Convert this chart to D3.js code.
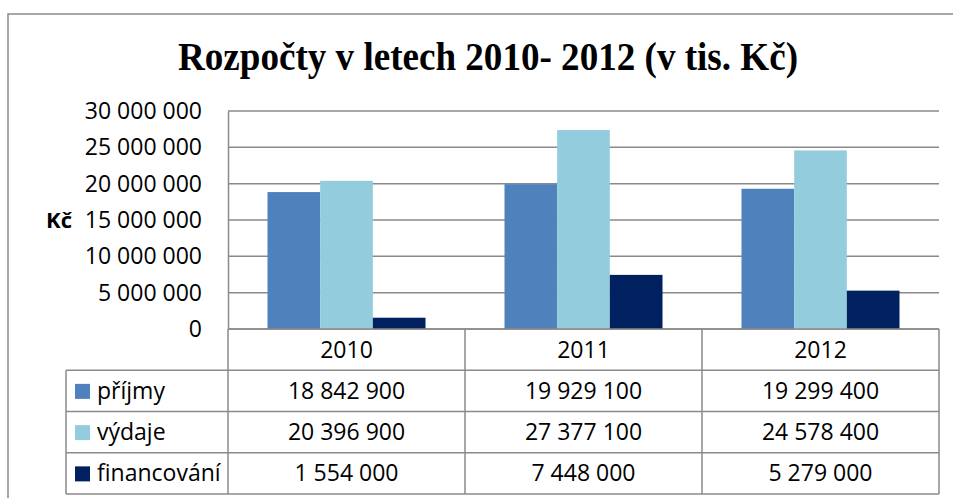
<!DOCTYPE html>
<html>
<head>
<meta charset="utf-8">
<script src="https://cdn.jsdelivr.net/npm/d3@7"></script>
<style>
  body { margin: 0; background: #fff; }
  svg { display: block; }
</style>
</head>
<body>
<svg id="chart" width="953" height="498"></svg>
<script>
var years = ["2010", "2011", "2012"];
var series = ["příjmy", "výdaje", "financování"];
var prijmy = [18842900, 19929100, 19299400];
var vydaje = [20396900, 27377100, 24578400];
var financovani = [1554000, 7448000, 5279000];
var yTicks = [0, 5000000, 10000000, 15000000, 20000000, 25000000, 30000000];
var colors = ["#4f81bd", "#93cddd", "#002060"];

var values = [prijmy, vydaje, financovani];

var svg = d3.select("#chart");
var cz = d3.formatLocale({ decimal: ",", thousands: " ", grouping: [3], currency: ["", " Kč"] });
var fmt = cz.format(",d");

// "top" is taken by window.top, so plot edges get their own names
var plotL = 228, plotR = 939, plotT = 111, plotB = 329;
var tableLeft = 66, tableBottom = 494;
var font = "'Open Sans', sans-serif";
var lineCol = "#8a8a8a";

// scales
var x = d3.scaleBand().domain(years).range([plotL, plotR]);
var gap = x.bandwidth() * 1.5 / 4.5;
var xs = d3.scaleBand().domain(series).range([gap / 2, x.bandwidth() - gap / 2]);
var y = d3.scaleLinear().domain([0, 30000000]).range([plotB, plotT]);
var row = d3.scaleBand().domain(["head"].concat(series)).range([plotB, tableBottom]);

// outer frame (top + left only visible)
svg.append("path")
  .attr("d", "M8,498V14H953")
  .attr("fill", "none").attr("stroke", lineCol).attr("stroke-width", 1.5);

// title
svg.append("text")
  .attr("x", 488).attr("y", 70)
  .attr("text-anchor", "middle")
  .attr("font-family", "'Liberation Serif', 'Times New Roman', serif")
  .attr("font-weight", "bold")
  .attr("font-size", 41)
  .attr("textLength", 620).attr("lengthAdjust", "spacingAndGlyphs")
  .text("Rozpočty v letech 2010- 2012 (v tis. Kč)");

// gridlines
svg.append("g").selectAll("line").data(yTicks).join("line")
  .attr("x1", plotL).attr("x2", plotR)
  .attr("y1", function(d) { return y(d); }).attr("y2", function(d) { return y(d); })
  .attr("stroke", lineCol).attr("stroke-width", 1.5);

// y axis
var yAxis = svg.append("g").attr("transform", "translate(" + plotL + ",0)")
  .call(d3.axisLeft(y).tickValues(yTicks).tickSize(0).tickPadding(26).tickFormat(fmt));
yAxis.select(".domain").attr("stroke", lineCol).attr("stroke-width", 1.5);
yAxis.selectAll("text")
  .attr("font-family", font).attr("font-size", 23).attr("fill", "#000");

svg.append("text")
  .attr("x", 59).attr("y", (plotT + plotB) / 2 + 8)
  .attr("text-anchor", "middle")
  .attr("font-family", font).attr("font-weight", "bold").attr("font-size", 22)
  .text("Kč");

// bars
var groups = svg.append("g").selectAll("g").data(series).join("g")
  .attr("fill", function(d, i) { return colors[i]; });
groups.selectAll("rect")
  .data(function(s, i) { return years.map(function(yr, j) { return { s: s, yr: yr, v: values[i][j] }; }); })
  .join("rect")
  .attr("x", function(d) { return x(d.yr) + xs(d.s); })
  .attr("width", xs.bandwidth())
  .attr("y", function(d) { return y(d.v); })
  .attr("height", function(d) { return plotB - y(d.v); });

// data table
var tbl = svg.append("g").attr("stroke", lineCol).attr("stroke-width", 1.5);
// horizontal lines
tbl.selectAll("line.h").data(series).join("line")
  .attr("x1", tableLeft).attr("x2", plotR)
  .attr("y1", function(d) { return row(d); }).attr("y2", function(d) { return row(d); });
tbl.append("line")
  .attr("x1", tableLeft).attr("x2", plotR)
  .attr("y1", tableBottom).attr("y2", tableBottom);
tbl.append("line")
  .attr("x1", plotL).attr("x2", plotR)
  .attr("y1", plotB).attr("y2", plotB);
// vertical lines
tbl.selectAll("line.v").data(years.concat(["end"])).join("line")
  .attr("x1", function(d) { return d === "end" ? plotR : x(d); })
  .attr("x2", function(d) { return d === "end" ? plotR : x(d); })
  .attr("y1", plotB).attr("y2", tableBottom);
tbl.append("line")
  .attr("x1", tableLeft).attr("x2", tableLeft)
  .attr("y1", row(series[0])).attr("y2", tableBottom);

// header
svg.append("g").selectAll("text").data(years).join("text")
  .attr("x", function(d) { return x(d) + x.bandwidth() / 2; })
  .attr("y", row("head") + row.bandwidth() / 2 + 8)
  .attr("text-anchor", "middle")
  .attr("font-family", font).attr("font-size", 23)
  .text(function(d) { return d; });

// legend keys + labels
var leg = svg.append("g").selectAll("g").data(series).join("g");
leg.append("rect")
  .attr("x", 75).attr("width", 15).attr("height", 15)
  .attr("y", function(d) { return row(d) + row.bandwidth() / 2 - 7; })
  .attr("fill", function(d, i) { return colors[i]; });
leg.append("text")
  .attr("x", 97)
  .attr("y", function(d) { return row(d) + row.bandwidth() / 2 + 8; })
  .attr("font-family", font).attr("font-size", 23)
  .text(function(d) { return d; });

// cell values
series.forEach(function(s, i) {
  svg.append("g").selectAll("text").data(values[i]).join("text")
    .attr("x", function(d, j) { return x(years[j]) + x.bandwidth() / 2; })
    .attr("y", row(s) + row.bandwidth() / 2 + 8)
    .attr("text-anchor", "middle")
    .attr("font-family", font).attr("font-size", 23)
    .text(function(d) { return fmt(d); });
});
</script>
</body>
</html>
